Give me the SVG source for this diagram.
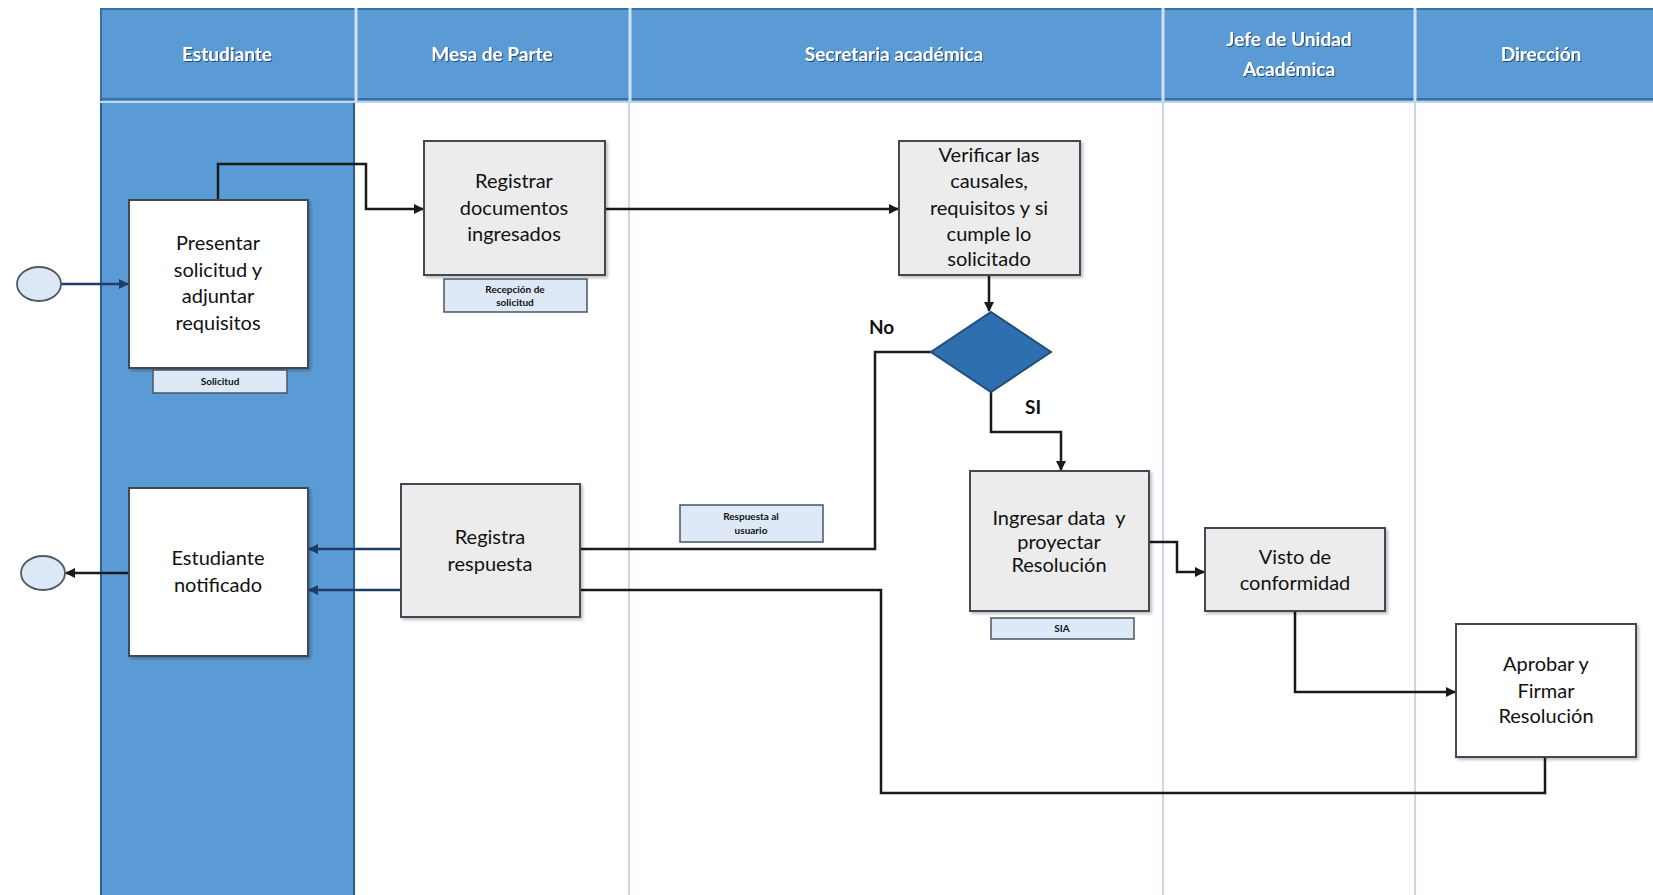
<svg xmlns="http://www.w3.org/2000/svg" width="1653" height="895" viewBox="0 0 1653 895">
<style>
.hdr{fill:#5b9bd5;}
.htxt{font-family:Lato,"Liberation Sans",sans-serif;font-weight:bold;font-size:19px;fill:#ffffff;text-anchor:middle;filter:url(#ts);}
.div{stroke:#c9d9ea;stroke-width:2;}
.box{stroke:#404a55;stroke-width:2;}
.w{fill:#ffffff;}
.g{fill:#ececec;}
.lbl{font-family:Lato,"Liberation Sans",sans-serif;font-size:20px;fill:#111111;text-anchor:middle;}
.doc{fill:#dde9f6;stroke:#4a5560;stroke-width:1.5;}
.small{font-family:Lato,"Liberation Sans",sans-serif;font-size:10px;font-weight:bold;fill:#111111;text-anchor:middle;}
.yn{font-family:Lato,"Liberation Sans",sans-serif;font-size:19px;font-weight:bold;fill:#111111;}
.c{fill:none;stroke:#1a1a1a;stroke-width:2.5;}
.cb{fill:none;stroke:#1f3d66;stroke-width:2.5;}
.ev{fill:#dce8f5;stroke:#505a66;stroke-width:1.8;}
</style>
<defs>
<filter id="ts" x="-10%" y="-30%" width="120%" height="160%"><feDropShadow dx="1" dy="1" stdDeviation="0.6" flood-color="#1f3f66" flood-opacity="0.9"/></filter>
<filter id="sh" x="-5%" y="-5%" width="115%" height="115%"><feDropShadow dx="2" dy="2" stdDeviation="1.5" flood-color="#000" flood-opacity="0.25"/></filter>
<marker id="ah" viewBox="0 0 10 10" refX="9" refY="5" markerWidth="4" markerHeight="4" orient="auto"><path d="M0,0 L10,5 L0,10 z" fill="#1a1a1a"/></marker>
<marker id="ahb" viewBox="0 0 10 10" refX="9" refY="5" markerWidth="4" markerHeight="4" orient="auto"><path d="M0,0 L10,5 L0,10 z" fill="#1f3d66"/></marker>
</defs>
<rect x="0" y="0" width="1653" height="895" fill="#ffffff"/>
<g id="lanes">
<rect x="100" y="101" width="255" height="794" fill="#5b9bd5"/>
<line x1="101" y1="101" x2="101" y2="895" stroke="#2f5f8f" stroke-width="2"/>
<line x1="354" y1="101" x2="354" y2="895" stroke="#2f5f8f" stroke-width="2"/>
<line class="div" x1="629" y1="101" x2="629" y2="895"/>
<line class="div" x1="1163" y1="101" x2="1163" y2="895"/>
<line class="div" x1="1415" y1="101" x2="1415" y2="895"/>
</g>
<g id="header">
<rect class="hdr" x="100" y="8" width="1553" height="93"/>
<line x1="100" y1="9" x2="1653" y2="9" stroke="#3f6f9f" stroke-width="2"/>
<line x1="100" y1="99" x2="1653" y2="99" stroke="#3f6f9f" stroke-width="2"/>
<line x1="100" y1="102" x2="1653" y2="102" stroke="#bcd6ee" stroke-width="2"/>
<line x1="101" y1="8" x2="101" y2="101" stroke="#3f6f9f" stroke-width="2"/>
<line x1="356" y1="8" x2="356" y2="101" stroke="#cfe3f5" stroke-width="3"/>
<line x1="630" y1="8" x2="630" y2="101" stroke="#cfe3f5" stroke-width="3"/>
<line x1="1163" y1="8" x2="1163" y2="101" stroke="#cfe3f5" stroke-width="3"/>
<line x1="1415" y1="8" x2="1415" y2="101" stroke="#cfe3f5" stroke-width="3"/>
<text class="htxt" x="227" y="61">Estudiante</text>
<text class="htxt" x="492" y="61">Mesa de Parte</text>
<text class="htxt" x="894" y="61">Secretaria académica</text>
<text class="htxt" x="1289" y="46">Jefe de Unidad</text>
<text class="htxt" x="1289" y="76">Académica</text>
<text class="htxt" x="1541" y="61">Dirección</text>
</g>
<g id="connectors">
<path class="cb" d="M61,284 H128" marker-end="url(#ahb)"/>
<path class="c" d="M218,200 V164 H366 V209 H423" marker-end="url(#ah)"/>
<path class="c" d="M605,209 H898" marker-end="url(#ah)"/>
<path class="c" d="M989,275 V311" marker-end="url(#ah)"/>
<path class="c" d="M991,392 V432 H1061 V470" marker-end="url(#ah)"/>
<path class="c" d="M931,352 H875 V549 H580"/>
<path class="cb" d="M401,549 H309" marker-end="url(#ahb)"/>
<path class="c" d="M1545,757 V793 H881 V590 H580"/>
<path class="cb" d="M401,590 H309" marker-end="url(#ahb)"/>
<path class="c" d="M1149,542 H1177 V572 H1204" marker-end="url(#ah)"/>
<path class="c" d="M1295,611 V692 H1455" marker-end="url(#ah)"/>
<path class="c" d="M129,573 H66" marker-end="url(#ah)"/>
</g>
<g id="start">
<ellipse class="ev" cx="39" cy="284" rx="22" ry="17"/>
</g>
<g id="presentar">
<rect class="box w" x="129" y="200" width="179" height="168" filter="url(#sh)"/>
<text class="lbl" x="218" y="250">Presentar</text>
<text class="lbl" x="218" y="277">solicitud y</text>
<text class="lbl" x="218" y="303">adjuntar</text>
<text class="lbl" x="218" y="330">requisitos</text>
</g>
<g id="doc-solicitud">
<rect class="doc" x="153" y="370" width="134" height="23"/>
<text class="small" x="220" y="385">Solicitud</text>
</g>
<g id="registrar">
<rect class="box g" x="424" y="141" width="181" height="134" filter="url(#sh)"/>
<text class="lbl" x="514" y="188">Registrar</text>
<text class="lbl" x="514" y="215">documentos</text>
<text class="lbl" x="514" y="241">ingresados</text>
</g>
<g id="doc-recepcion">
<rect class="doc" x="444" y="279" width="143" height="33"/>
<text class="small" x="515" y="293">Recepción de</text>
<text class="small" x="515" y="306">solicitud</text>
</g>
<g id="verificar">
<rect class="box g" x="899" y="141" width="181" height="134" filter="url(#sh)"/>
<text class="lbl" x="989" y="162">Verificar las</text>
<text class="lbl" x="989" y="188">causales,</text>
<text class="lbl" x="989" y="215">requisitos y si</text>
<text class="lbl" x="989" y="241">cumple lo</text>
<text class="lbl" x="989" y="266">solicitado</text>
</g>
<g id="decision">
<polygon points="991,312 1051,352 991,392 931,352" fill="#2e6fb0" stroke="#1f4e79" stroke-width="2"/>
<text class="yn" x="869" y="334">No</text>
<text class="yn" x="1025" y="414">SI</text>
</g>
<g id="ingresar">
<rect class="box g" x="970" y="471" width="179" height="140" filter="url(#sh)"/>
<text class="lbl" x="1059" y="525" xml:space="preserve">Ingresar data  y</text>
<text class="lbl" x="1059" y="549">proyectar</text>
<text class="lbl" x="1059" y="572">Resolución</text>
</g>
<g id="doc-sia">
<rect class="doc" x="991" y="618" width="143" height="21"/>
<text class="small" x="1062" y="632">SIA</text>
</g>
<g id="visto">
<rect class="box g" x="1205" y="528" width="180" height="83" filter="url(#sh)"/>
<text class="lbl" x="1295" y="564">Visto de</text>
<text class="lbl" x="1295" y="590">conformidad</text>
</g>
<g id="aprobar">
<rect class="box w" x="1456" y="624" width="180" height="133" filter="url(#sh)"/>
<text class="lbl" x="1546" y="671">Aprobar y</text>
<text class="lbl" x="1546" y="698">Firmar</text>
<text class="lbl" x="1546" y="723">Resolución</text>
</g>
<g id="doc-respuesta">
<rect class="doc" x="680" y="505" width="143" height="37"/>
<text class="small" x="751" y="520">Respuesta al</text>
<text class="small" x="751" y="534">usuario</text>
</g>
<g id="registra-respuesta">
<rect class="box g" x="401" y="484" width="179" height="133" filter="url(#sh)"/>
<text class="lbl" x="490" y="544">Registra</text>
<text class="lbl" x="490" y="571">respuesta</text>
</g>
<g id="notificado">
<rect class="box w" x="129" y="488" width="179" height="168" filter="url(#sh)"/>
<text class="lbl" x="218" y="565">Estudiante</text>
<text class="lbl" x="218" y="592">notificado</text>
</g>
<g id="end">
<ellipse class="ev" cx="43" cy="573" rx="22" ry="17"/>
</g>
</svg>
